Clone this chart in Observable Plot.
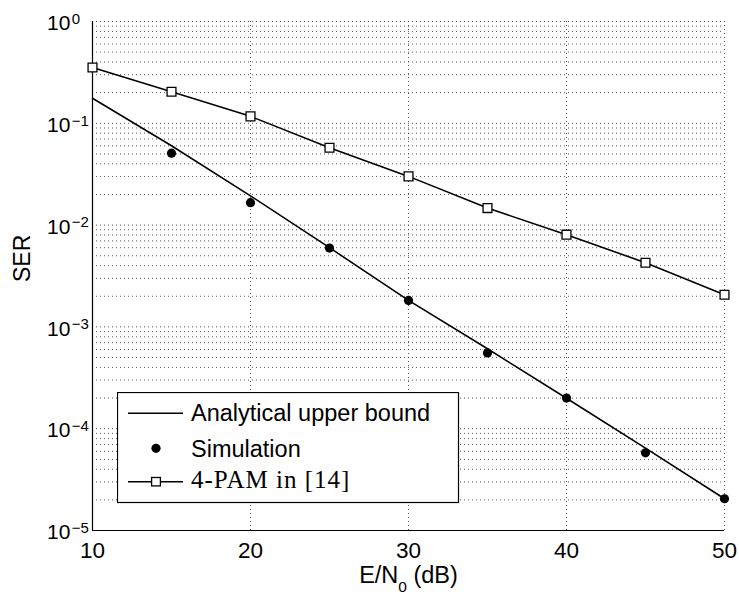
<!DOCTYPE html>
<html><head><meta charset="utf-8">
<script src="https://cdn.jsdelivr.net/npm/d3@7"></script>
<script src="https://cdn.jsdelivr.net/npm/@observablehq/plot@0.6"></script>
<style>
body{margin:0;background:#fff;}
#wrap{position:relative;width:739px;height:596px;}
#legend{position:absolute;left:117px;top:392px;}
</style></head><body><div id="wrap"></div>
<script>
// ---- data ----
const snr = [10, 15, 20, 25, 30, 35, 40, 45, 50];
const analyticalSER = [0.176, 0.0602, 0.0194, 0.0060, 0.00182, 0.00061, 0.000199, 0.0000644, 0.0000205];
const simSNR = [15, 20, 25, 30, 35, 40, 45, 50];
const simulationSER = [0.0509, 0.0166, 0.00595, 0.00182, 0.000555, 0.000200, 0.0000580, 0.0000205];
const pamSER = [0.353, 0.204, 0.117, 0.0575, 0.0301, 0.0147, 0.00805, 0.00427, 0.00207];
const xTickValues = [10, 20, 30, 40, 50];
const yTickValues = [1e-5, 1e-4, 1e-3, 1e-2, 1e-1, 1];
const yTickLabels = ["10^\u22125", "10^\u22124", "10^\u22123", "10^\u22122", "10^\u22121", "10^0"];
const legendLabels = ["Analytical upper bound", "Simulation", "4-PAM in [14]"];
const xLabel = "E/N_0 (dB)";
const yLabel = "SER";

// minor+major grid values derived from decades
const yGrid = [];
yTickValues.forEach((v, k) => {
  if (k < yTickValues.length - 1) for (let m = 1; m < 10; m++) yGrid.push(m * v);
  else yGrid.push(v);
});

const analytical = snr.map((x, i) => ({x, y: analyticalSER[i]}));
const simulation = simSNR.map((x, i) => ({x, y: simulationSER[i]}));
const pam = snr.map((x, i) => ({x, y: pamSER[i]}));

const gridStyle = {stroke: "#444", strokeWidth: 0.9, strokeDasharray: "1,3"};
const FONT = "'Liberation Sans', Arial, Helvetica, sans-serif";

const chart = Plot.plot({
  width: 739, height: 596,
  marginLeft: 92, marginRight: 15, marginTop: 21, marginBottom: 66,
  style: {fontFamily: FONT, fontSize: "22px", background: "#fff", color: "#000", overflow: "visible"},
  x: {domain: [xTickValues[0], xTickValues[xTickValues.length - 1]], ticks: xTickValues, tickSize: 0, tickPadding: 12, label: null},
  y: {type: "log", domain: [yTickValues[0], yTickValues[yTickValues.length - 1]], axis: null},
  marks: [
    Plot.ruleY(yGrid, gridStyle),
    Plot.ruleX(xTickValues, gridStyle),
    Plot.ruleX([xTickValues[0]], {stroke: "#000", strokeWidth: 1.2}),
    Plot.ruleY([yTickValues[0]], {stroke: "#000", strokeWidth: 1.2}),
    Plot.line(analytical, {x: "x", y: "y", stroke: "#000", strokeWidth: 1.6}),
    Plot.line(pam, {x: "x", y: "y", stroke: "#000", strokeWidth: 1.6}),
    Plot.dot(pam, {x: "x", y: "y", symbol: "square", r: 5, fill: "#fff", stroke: "#000", strokeWidth: 1.3}),
    Plot.dot(simulation, {x: "x", y: "y", r: 4.6, fill: "#000"}),
    Plot.text(yTickValues, {y: d => d, text: (d, i) => yTickLabels[i], frameAnchor: "left", textAnchor: "start", dx: -45.5, dy: 2}),
    Plot.text([yLabel], {frameAnchor: "left", rotate: -90, dx: -70, dy: 6}),
    Plot.text([xLabel], {frameAnchor: "bottom", lineAnchor: "middle", dy: 45})
  ]
});

const svg = d3.select(chart);
svg.style("font-family", FONT);
svg.selectAll("text").style("font-size", "22.5px").style("font-family", FONT);

// superscripts / subscripts
svg.selectAll("text").each(function() {
  const t = this.textContent;
  const s = d3.select(this);
  let m = /^10\^(.+)$/.exec(t);
  if (m) {
    s.style("font-size", "21px");
    s.text("10");
    s.append("tspan").attr("dx", 1.5).attr("dy", -6.5).style("font-size", "15px").text(m[1]);
    return;
  }
  m = /^(.*)_(.)(.*)$/.exec(t);
  if (m) {
    s.style("font-size", "23.5px");
    s.text(m[1]);
    s.append("tspan").attr("dy", 8.5).style("font-size", "15.5px").text(m[2]);
    s.append("tspan").attr("dy", -8.5).text(m[3]);
    return;
  }
  if (t === yLabel) s.style("font-size", "23px");
});

document.getElementById("wrap").appendChild(chart);

// legend box
const leg = d3.select("#wrap").append("div").attr("id", "legend");
const lsvg = leg.append("svg").attr("width", 343).attr("height", 112)
  .style("font-family", FONT);
lsvg.append("rect").attr("x", 0.5).attr("y", 0.5).attr("width", 341).attr("height", 110)
  .attr("fill", "#fff").attr("stroke", "#000").attr("stroke-width", 1.2);
const rowY = [21.3, 56.3, 89.7];
const baseY = [29, 64.5, 96.3];
lsvg.append("line").attr("x1", 11).attr("x2", 66).attr("y1", rowY[0]).attr("y2", rowY[0]).attr("stroke", "#000").attr("stroke-width", 1.6);
lsvg.append("circle").attr("cx", 39).attr("cy", rowY[1]).attr("r", 4.6).attr("fill", "#000");
lsvg.append("line").attr("x1", 11).attr("x2", 66).attr("y1", rowY[2]).attr("y2", rowY[2]).attr("stroke", "#000").attr("stroke-width", 1.6);
lsvg.append("rect").attr("x", 39 - 4.4).attr("y", rowY[2] - 4.2).attr("width", 8.8).attr("height", 8.4)
  .attr("fill", "#fff").attr("stroke", "#000").attr("stroke-width", 1.3);
legendLabels.forEach((lab, i) => {
  const t = lsvg.append("text").attr("x", 74).attr("y", baseY[i]).text(lab);
  if (i === 2) t.style("font-family", "'Liberation Serif', 'Times New Roman', serif").style("font-size", "25px").attr("letter-spacing", 1);
  else t.style("font-size", "23.5px");
});
</script></body></html>
